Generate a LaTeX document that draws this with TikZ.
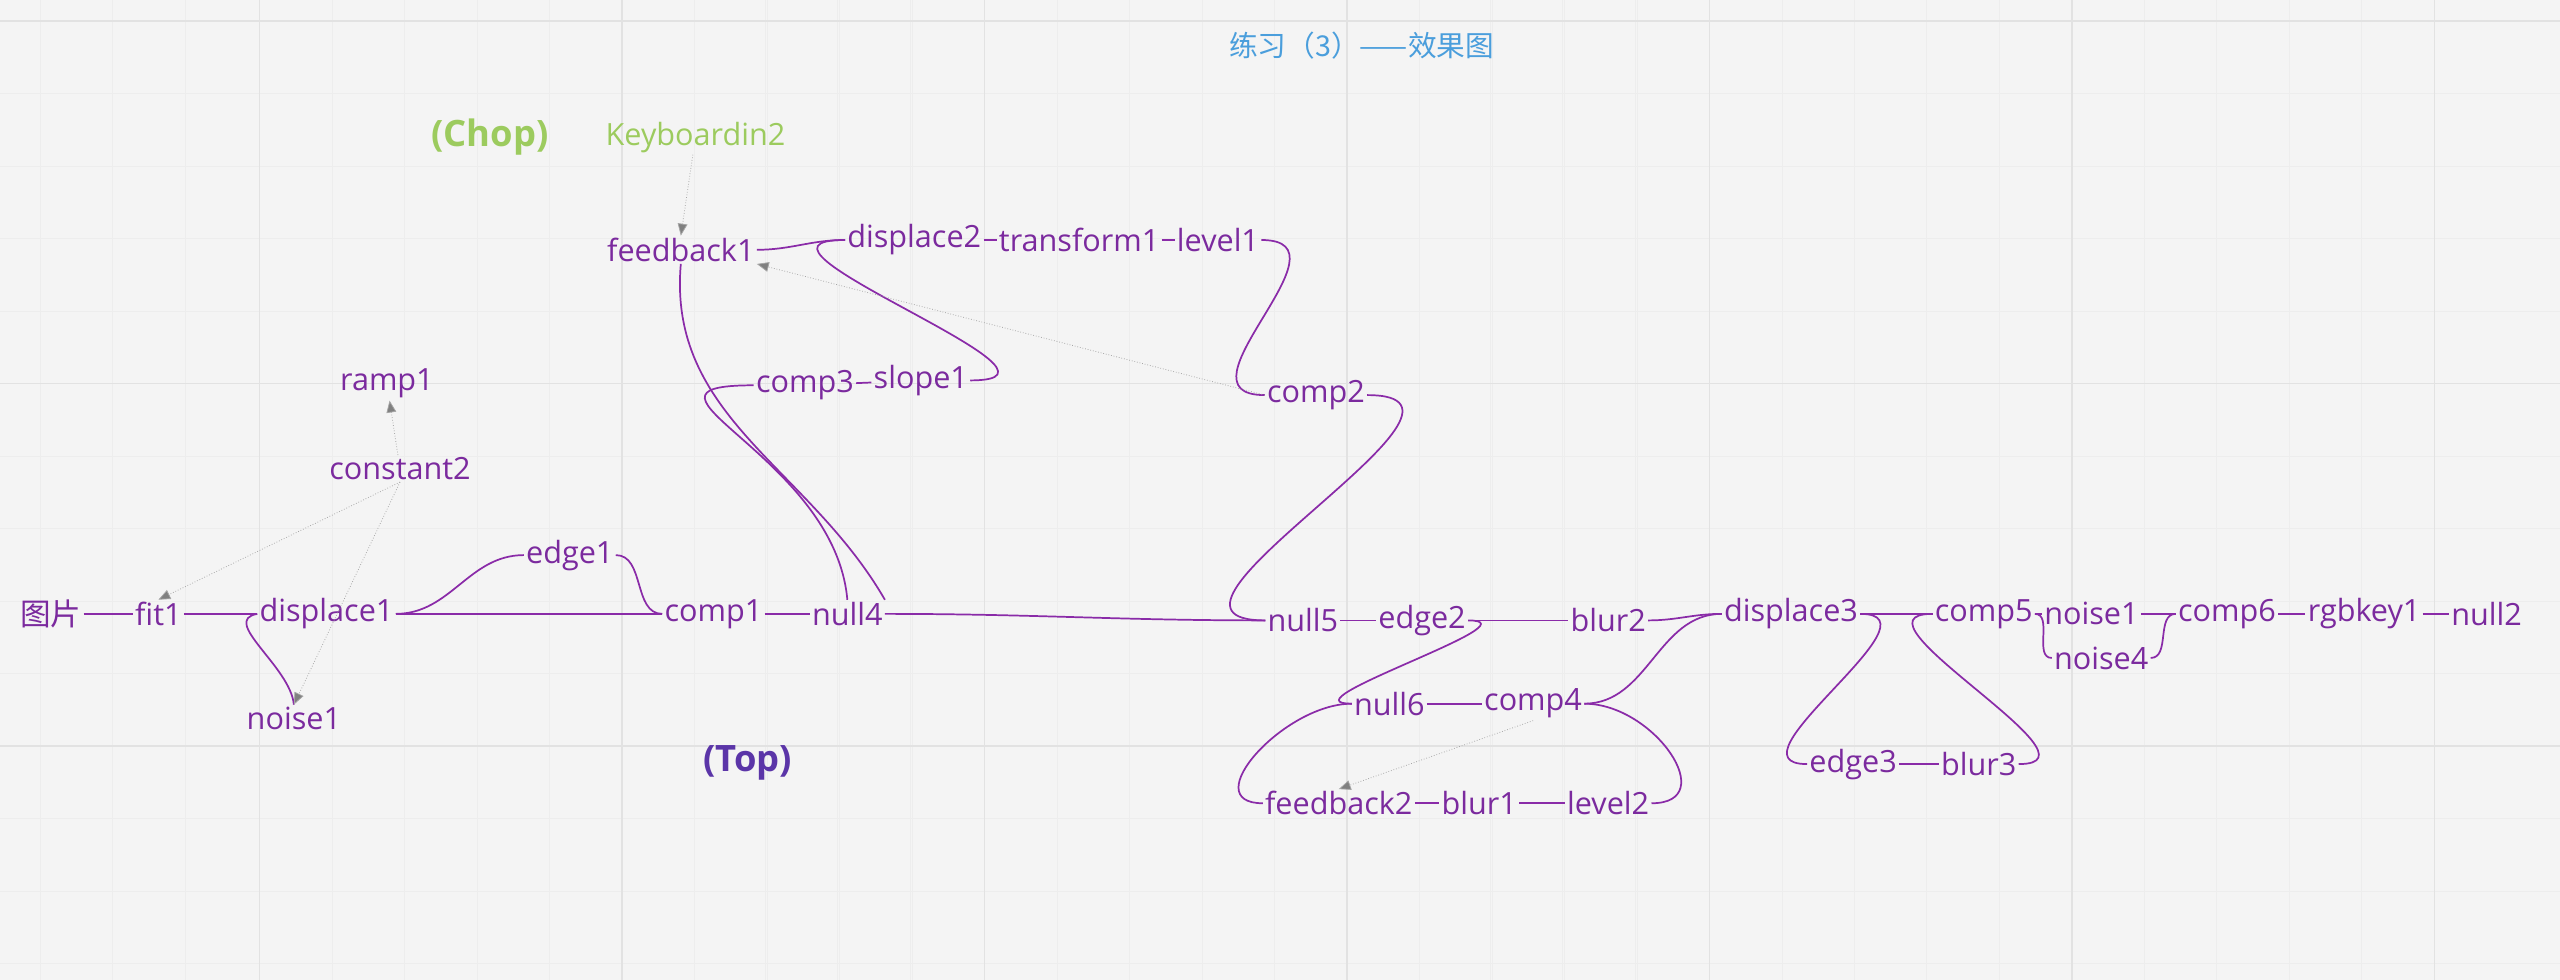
\documentclass[tikz,border=0pt]{standalone}
\usepackage{fontspec}
\setmainfont{Open Sans}
\newfontfamily\cjk{Noto Sans CJK SC}
\usetikzlibrary{arrows.meta}
\definecolor{nodepurple}{HTML}{7B2A9E}
\definecolor{linkpurple}{HTML}{8A2BA8}
\definecolor{chopgreen}{HTML}{9CCB5E}
\definecolor{toppurple}{HTML}{5B35A8}
\definecolor{titleblue}{HTML}{4A9EDC}
\definecolor{gridgray}{HTML}{E2E2E2}
\begin{document}
\begin{tikzpicture}[x=0.03cm, y=-0.03cm,
    nd/.style = {text=nodepurple, font=\fontsize{16}{18}\selectfont, inner sep=1pt},
    lk/.style = {draw=linkpurple, line width=0.9pt},
    ref/.style = {draw=gray!70, densely dotted, -{Triangle[length=2.2mm,width=1.8mm,fill=gray]}}]
%---
\fill[gray!9] (0,0) rectangle (1568,600);
\useasboundingbox (0,0) rectangle (1568,600);
\foreach \gx in {24.6,69,113.4,203.4,247.8,292.2,336.6,425.4,469.8,514.2,558.6} {
  \draw[gray!14] (\gx,0) -- (\gx,600); \draw[gray!14] (\gx+444,0) -- (\gx+444,600);
  \draw[gray!14] (\gx+888,0) -- (\gx+888,600);}
\foreach \gy in {57.4,101.8,146.2,190.6,279.4,323.8,368.2,412.6,501.4,545.8,590.2}
  \draw[gray!14] (0,\gy) -- (1568,\gy);
\foreach \gx in {159,381,603,825,1047,1269,1491} \draw[gridgray, thick] (\gx,0) -- (\gx,600);
\foreach \gy in {13,235,457} \draw[gridgray, thick] (0,\gy) -- (1568,\gy);
% labels
\node (title) [text=titleblue, font=\cjk\fontsize{15}{17}\selectfont] at (834,28) {练习（3）——效果图};
\node (chop) [text=chopgreen, font=\bfseries\fontsize{19}{21}\selectfont] at (300,84) {(Chop)};
\node (top) [text=toppurple, font=\bfseries\fontsize{19}{21}\selectfont] at (458,467) {(Top)};
\node (kb) [nd, text=chopgreen] at (426,84) {Keyboardin2};
% top row
\node (fb1) [nd] at (417,153) {feedback1};
\node (dp2) [nd] at (560,147) {displace2};
\node (tf1) [nd] at (661,147) {transform1};
\node (lv1) [nd] at (746,147) {level1};
\node (ramp) [nd] at (237,235) {ramp1};
\node (cp3) [nd] at (493,236) {comp3};
\node (sl1) [nd] at (564,233) {slope1};
\node (cp2) [nd] at (806,242) {comp2};
\node (cst) [nd] at (245,287) {constant2};
\node (ed1) [nd] at (349,340) {edge1};
% main row
\node (img) [nd, font=\cjk\fontsize{16}{18}\selectfont] at (31,376) {图片};
\node (fit) [nd] at (97,376) {fit1};
\node (dp1) [nd] at (200,376) {displace1};
\node (cp1) [nd] at (437,376) {comp1};
\node (nl4) [nd] at (519,376) {null4};
\node (nl5) [nd] at (798,380) {null5};
\node (ed2) [nd] at (871,380) {edge2};
\node (bl2) [nd] at (985,380) {blur2};
\node (dp3) [nd] at (1097,376) {displace3};
\node (cp5) [nd] at (1215,376) {comp5};
\node (ns1) [nd] at (1281,376) {noise1};
\node (cp6) [nd] at (1364,376) {comp6};
\node (rgb) [nd] at (1448,376) {rgbkey1};
\node (nl2) [nd] at (1523,376) {null2};
\node (ns4) [nd] at (1287,403) {noise4};
% lower rows
\node (nsa) [nd] at (180,440) {noise1};
\node (nl6) [nd] at (851,431) {null6};
\node (cp4) [nd] at (939,431) {comp4};
\node (ed3) [nd] at (1135,468) {edge3};
\node (bl3) [nd] at (1212,468) {blur3};
\node (fb2) [nd] at (820,492) {feedback2};
\node (bl1) [nd] at (906,492) {blur1};
\node (lv2) [nd] at (985,492) {level2};
% links
\draw[lk] (img) -- (fit);
\draw[lk] (fit) -- (dp1);
\draw[lk] (dp1.east) -- (cp1.west);
\draw[lk] (dp1.east) to[out=0,in=180] (ed1.west);
\draw[lk] (ed1.east) to[out=0,in=180] (cp1.west);
\draw[lk] (dp1.west) to[out=190,in=95] (nsa.north);
\draw[lk] (cp1) -- (nl4);
\draw[lk] (nl4.east) to[out=0,in=180] (nl5.west);
\draw[lk] (nl4.north east) to[out=120,in=-95] (fb1.south);
\draw[lk] (nl4.north) to[out=95,in=180,looseness=1.6] (cp3.west);
\draw[lk] (cp3) -- (sl1);
\draw[lk] (sl1.east) to[out=0,in=180,looseness=1.8] (dp2.west);
\draw[lk] (fb1.east) to[out=0,in=180] (dp2.west);
\draw[lk] (dp2) -- (tf1);
\draw[lk] (tf1) -- (lv1);
\draw[lk] (lv1.east) to[out=0,in=180,looseness=1.6] (cp2.west);
\draw[lk] (cp2.east) to[out=0,in=180,looseness=1.6] (nl5.west);
\draw[lk] (nl5) -- (ed2);
\draw[lk] (ed2) -- (bl2);
\draw[lk] (bl2.east) to[out=0,in=180] (dp3.west);
\draw[lk] (ed2.east) to[out=0,in=180,looseness=1.3] (nl6.west);
\draw[lk] (nl6) -- (cp4);
\draw[lk] (cp4.east) to[out=0,in=180] (dp3.west);
\draw[lk] (nl6.west) to[out=180,in=180,looseness=1.3] (fb2.west);
\draw[lk] (fb2) -- (bl1);
\draw[lk] (bl1) -- (lv2);
\draw[lk] (cp4.east) to[out=0,in=0,looseness=1.5] (lv2.east);
\draw[lk] (dp3) -- (cp5);
\draw[lk] (dp3.east) to[out=0,in=180,looseness=1.4] (ed3.west);
\draw[lk] (ed3) -- (bl3);
\draw[lk] (bl3.east) to[out=0,in=180,looseness=1.4] (cp5.west);
\draw[lk] (cp5.east) to[out=0,in=180] (ns1.west);
\draw[lk] (cp5.east) to[out=0,in=180] (ns4.west);
\draw[lk] (ns1) -- (cp6);
\draw[lk] (ns4.east) to[out=0,in=180] (cp6.west);
\draw[lk] (cp6) -- (rgb);
\draw[lk] (rgb) -- (nl2);
% references
\draw[ref] (kb) -- (fb1.north);
\draw[ref] (cp2.west) -- (fb1.south east);
\draw[ref] (cst) -- (ramp);
\draw[ref] (cst.south) -- (fit.north);
\draw[ref] (cst.south) -- (nsa.north);
\draw[ref] (cp4.south) -- (fb2.north);
\end{tikzpicture}
\end{document}
